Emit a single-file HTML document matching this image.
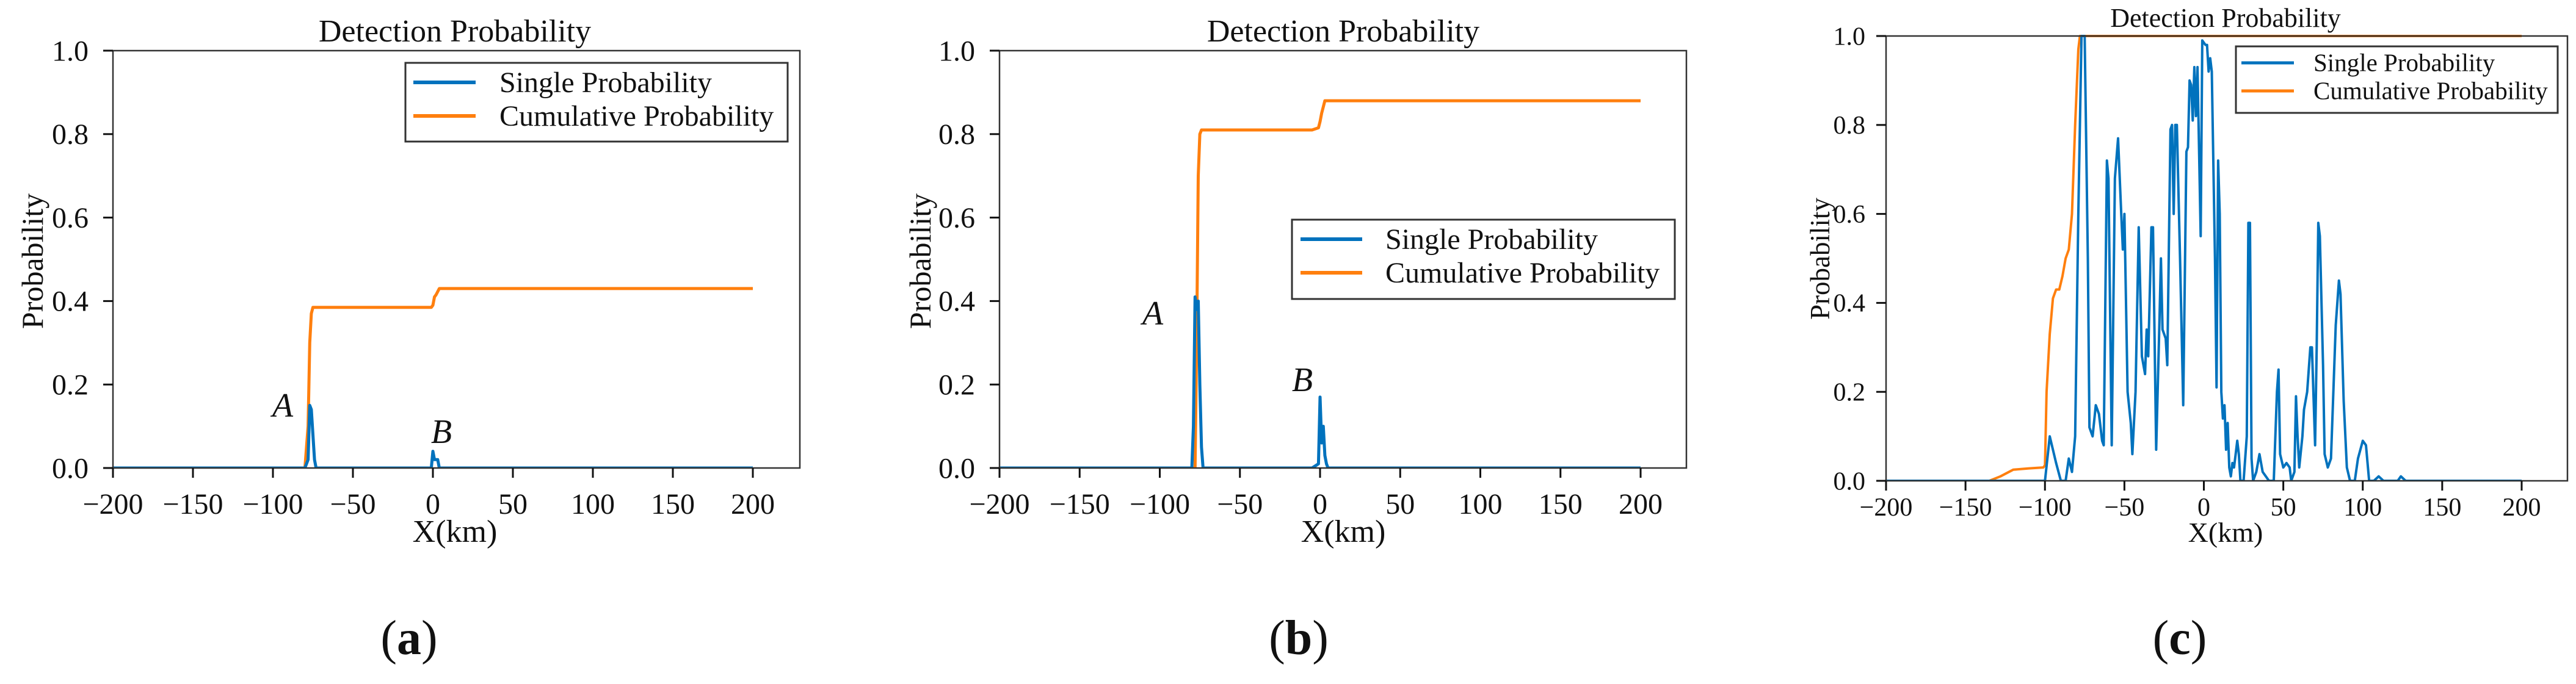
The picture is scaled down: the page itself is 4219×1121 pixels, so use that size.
<!DOCTYPE html>
<html><head><meta charset="utf-8"><title>Detection Probability</title>
<style>
html,body{margin:0;padding:0;background:#fff;}
svg{display:block;font-family:"Liberation Serif","Times New Roman",serif;}
</style></head>
<body>
<svg id="fig" width="4219" height="1121" viewBox="0 0 4219 1121" xmlns="http://www.w3.org/2000/svg"></svg>
<script>
// ---- data ----
const xTicks = [-200,-150,-100,-50,0,50,100,150,200];
const yTicks = [0,0.2,0.4,0.6,0.8,1.0];
const yTickLabels = ["0.0","0.2","0.4","0.6","0.8","1.0"];

const aSingleX = [-200,-80,-78,-77,-76,-75,-74,-73,-1,0,1,2,3,4,200];
const aSingleY = [0,0,0.02,0.15,0.14,0.08,0.02,0,0,0.04,0.02,0.02,0.02,0,0];
const aCumX = [-200,-80,-78,-77,-76,-75,-1,0,1,2,4,200];
const aCumY = [0,0,0.1,0.3,0.37,0.385,0.385,0.39,0.41,0.415,0.43,0.43];

const bSingleX = [-200,-80,-79,-78,-77,-76,-75,-74,-73,-5,-3,-1,0,1,2,3,4,5,200];
const bSingleY = [0,0,0.1,0.41,0.38,0.4,0.2,0.05,0,0,0.005,0.01,0.17,0.06,0.1,0.03,0.01,0,0];
const bCumX = [-200,-78,-77,-76,-75,-74,-5,-1,0,1,3,5,200];
const bCumY = [0,0,0.3,0.7,0.8,0.81,0.81,0.815,0.83,0.85,0.88,0.88,0.88];

const cSingleX = [-200,-100,-97,-93,-90,-87,-85,-83,-81,-79,-77,-75,-73,-72,-70,-68,-66,-64,-63,-61,-60,-58,-56,-54,-52,-51,-50,-48,-46,-45,-43,-41,-39,-37,-36,-35,-33,-32,-30,-28,-27,-26,-24,-23,-21,-20,-19,-18,-17,-15,-13,-11,-10,-9,-8,-7,-6,-5,-4,-2,-1,1,2,3,4,5,7,8,9,10,11,12,13,14,15,16,17,18,19,20,21,22,23,25,27,28,29,30,31,33,35,37,39,41,44,46,47,48,50,52,54,55,57,58,59,60,62,63,65,67,68,70,71,72,73,75,76,78,80,83,85,86,88,90,92,95,97,100,102,104,107,110,113,122,124,127,200];
const cSingleY = [0,0,0.1,0.04,0,0,0.05,0.02,0.1,0.6,1.0,1.0,0.5,0.12,0.1,0.17,0.15,0.09,0.08,0.72,0.68,0.08,0.68,0.77,0.6,0.52,0.6,0.2,0.13,0.06,0.2,0.57,0.28,0.24,0.34,0.28,0.57,0.57,0.07,0.35,0.5,0.34,0.32,0.26,0.79,0.8,0.6,0.8,0.8,0.5,0.17,0.74,0.75,0.9,0.89,0.81,0.93,0.82,0.93,0.55,0.99,0.98,0.98,0.92,0.95,0.92,0.5,0.21,0.72,0.6,0.2,0.14,0.17,0.07,0.13,0.03,0.01,0.04,0.03,0.06,0.09,0.06,0,0,0.1,0.58,0.58,0.05,0,0.02,0.06,0.02,0.01,0,0,0.2,0.25,0.06,0.03,0.04,0.03,0,0.02,0.19,0.1,0.03,0.1,0.16,0.2,0.3,0.3,0.08,0.3,0.58,0.55,0.26,0.06,0.03,0.05,0.35,0.45,0.42,0.18,0.03,0,0,0.05,0.09,0.08,0,0,0.01,0,0,0.01,0,0];
const cCumX = [-200,-135,-128,-120,-110,-101,-100,-99,-97,-95,-93,-91,-89,-87,-85,-83,-81,-79,-78,200];
const cCumY = [0,0,0.01,0.025,0.028,0.03,0.035,0.2,0.33,0.41,0.43,0.43,0.46,0.5,0.52,0.6,0.8,0.97,1.0,1.0];

// ---- layout ----
const NS = "http://www.w3.org/2000/svg";
const svg = document.getElementById('fig');
function el(tag, attrs, parent, txt){
  const e = document.createElementNS(NS, tag);
  for (const k in attrs) e.setAttribute(k, attrs[k]);
  if (txt !== undefined) e.textContent = txt;
  (parent||svg).appendChild(e);
  return e;
}
const BLUE = "#0072bd", ORANGE = "#ff7f0e";

const panels = [
  {id:"a", L:185, R:1310, T:83, B:767, x200:1233, fs:48, tfs:52, title:745, titleY:68, ylab:[70,428], ylfs:50,
   leg:{x1:664,y1:103,x2:1290,y2:232, lx1:677,lx2:779, ly:[135,190], tx:818, fs:48},
   sX:aSingleX, sY:aSingleY, cX:aCumX, cY:aCumY, lw:5, tickLabelY:842, xlabY:888, tickGap:40,
   ann:[["A",463,683],["B",723,726]], cap:[670,1072]},
  {id:"b", L:1637, R:2762, T:83, B:767, x200:2687, fs:48, tfs:52, title:2200, titleY:68, ylab:[1524,428], ylfs:50,
   leg:{x1:2116,y1:360,x2:2743,y2:490, lx1:2130,lx2:2231, ly:[392,447], tx:2269, fs:48},
   sX:bSingleX, sY:bSingleY, cX:bCumX, cY:bCumY, lw:5, tickLabelY:842, xlabY:888, tickGap:40,
   ann:[["A",1888,532],["B",2133,641]], cap:[2127,1072]},
  {id:"c", L:3089, R:4205, T:59, B:788, x200:4130, fs:42, tfs:44, title:3645, titleY:44, ylab:[2996,424], ylfs:45,
   leg:{x1:3662,y1:76,x2:4189,y2:185, lx1:3671,lx2:3757, ly:[103,149], tx:3789, fs:41},
   sX:cSingleX, sY:cSingleY, cX:cCumX, cY:cCumY, lw:4, tickLabelY:845, xlabY:888, tickGap:34,
   ann:[], cap:[3570,1072]}
];

panels.forEach(p => {
  const g = el('g', {});
  
  
  const sx = v => p.L + (v + 200) / 400 * (p.x200 - p.L);
  const sy = v => p.B - v * (p.B - p.T);

  const t = el('text', {x:p.title, y:p.titleY, 'font-size':p.tfs, 'text-anchor':'middle', fill:'#111'}, g, 'Detection Probability');
  
  

  const cp = el('clipPath', {id:'clip-'+p.id}, g);
  el('rect', {x:p.L, y:p.T-3, width:p.R-p.L, height:p.B-p.T+4}, cp);

  function line(xs, ys, color, name){
    let d = '';
    for (let i=0;i<xs.length;i++) d += (i?'L':'M') + sx(xs[i]).toFixed(1) + ' ' + sy(ys[i]).toFixed(1);
    const path = el('path', {d:d, fill:'none', stroke:color, 'stroke-width':p.lw, 'stroke-linejoin':'round', 'clip-path':'url(#clip-'+p.id+')'}, g);
    
    
  }
  line(p.cX, p.cY, ORANGE, 'cumulative-probability-line');
  line(p.sX, p.sY, BLUE, 'single-probability-line');

  const fr = el('rect', {x:p.L, y:p.T, width:p.R-p.L, height:p.B-p.T, fill:'none', stroke:'#333', 'stroke-width':2.5}, g);
  
  

  xTicks.forEach(v => {
    const x = sx(v);
    el('line', {x1:x, y1:p.B, x2:x, y2:p.B+16, stroke:'#111', 'stroke-width':3}, g);
    const tl = el('text', {x:x, y:p.tickLabelY, 'font-size':p.fs, 'text-anchor':'middle', fill:'#111'}, g, v < 0 ? '\u2212' + Math.abs(v) : String(v));
    
    
  });
  yTicks.forEach((v, i) => {
    const y = sy(v);
    el('line', {x1:p.L-16, y1:y, x2:p.L, y2:y, stroke:'#111', 'stroke-width':3}, g);
    const tl = el('text', {x:p.L-p.tickGap, y:y+p.fs*0.34, 'font-size':p.fs, 'text-anchor':'end', fill:'#111'}, g, yTickLabels[i]);
    
    
  });

  const xl = el('text', {x:p.title, y:p.xlabY, 'font-size':p.fs+4, 'text-anchor':'middle', fill:'#111'}, g, 'X(km)');
  
  
  const yl = el('text', {x:0, y:0, 'font-size':p.ylfs, 'text-anchor':'middle', fill:'#111', transform:'translate('+p.ylab[0]+','+p.ylab[1]+') rotate(-90)'}, g, 'Probability');
  
  

  const lg = el('g', {}, g);
  
  
  el('rect', {x:p.leg.x1, y:p.leg.y1, width:p.leg.x2-p.leg.x1, height:p.leg.y2-p.leg.y1, fill:'#fff', stroke:'#333', 'stroke-width':3}, lg);
  [['Single Probability', BLUE, 'legend-entry-single'], ['Cumulative Probability', ORANGE, 'legend-entry-cumulative']].forEach((e, i) => {
    const eg = el('g', {}, lg);
    
    
    el('line', {x1:p.leg.lx1, y1:p.leg.ly[i], x2:p.leg.lx2, y2:p.leg.ly[i], stroke:e[1], 'stroke-width':p.lw+1}, eg);
    el('text', {x:p.leg.tx, y:p.leg.ly[i]+p.leg.fs*0.33, 'font-size':p.leg.fs, fill:'#111'}, eg, e[0]);
  });

  p.ann.forEach(a => {
    const at = el('text', {x:a[1], y:a[2], 'font-size':56, 'font-style':'italic', 'text-anchor':'middle', fill:'#111'}, g, a[0]);
    
    
  });

  const cap = el('text', {x:p.cap[0], y:p.cap[1], 'font-size':80, 'text-anchor':'middle', fill:'#111'}, g);
  
  
  el('tspan', {}, cap, '(');
  el('tspan', {'font-weight':'bold'}, cap, p.id);
  el('tspan', {}, cap, ')');
});
</script>
</body></html>
